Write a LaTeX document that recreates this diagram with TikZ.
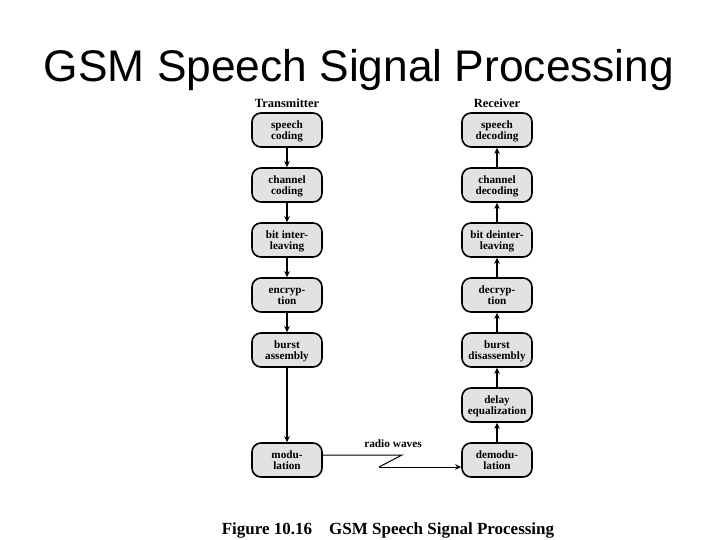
\documentclass[tikz,border=0pt]{standalone}
\usepackage{fontspec}
\setmainfont{Liberation Serif}
\newfontfamily\titlefont{Liberation Sans}
\usetikzlibrary{arrows.meta,positioning}
\definecolor{boxgrey}{HTML}{E2E2E2}
\newcommand{\twolines}[2]{\rule{0pt}{10.5pt}#1\\#2\rule[-2.5pt]{0pt}{2.5pt}}

\begin{document}
\begin{tikzpicture}[x=1pt, y=-1pt,
  node distance=19.4pt and 138.4pt,
  stage/.style={draw=black, fill=boxgrey, line width=1.6pt, rounded corners=9pt, minimum width=70pt, minimum height=34pt, inner sep=1pt, align=center, font=\fontsize{11.2}{11}\selectfont\bfseries},
  head/.style={font=\fontsize{12.5}{14}\selectfont\bfseries},
  arr/.style={-{Stealth[length=6pt, width=5.5pt]}, line width=1.4pt},
  radio/.style={line width=1pt}
]
\useasboundingbox (0,0) rectangle (720,540);

\node[font=\titlefont\fontsize{44.3}{50}\selectfont, anchor=base] (title) at (359,82) {GSM Speech Signal Processing};

% transmitter chain
\node[stage] (spc) at (287,130) {\twolines{speech}{coding}};
\node[stage, below=of spc] (chc) {\twolines{channel}{coding}};
\node[stage, below=of chc] (bil) {\twolines{bit inter-}{leaving}};
\node[stage, below=of bil] (enc) {\twolines{encryp-}{tion}};
\node[stage, below=of enc] (bas) {\twolines{burst}{assembly}};
\node[stage, below=74.4pt of bas] (mod) {\twolines{modu-}{lation}};
\node[head, above=1pt of spc] (tx) {Transmitter};

% receiver chain
\node[stage, right=of spc] (spd) {\twolines{speech}{decoding}};
\node[stage, below=of spd] (chd) {\twolines{channel}{decoding}};
\node[stage, below=of chd] (bdl) {\twolines{bit deinter-}{leaving}};
\node[stage, below=of bdl] (dec) {\twolines{decryp-}{tion}};
\node[stage, below=of dec] (bds) {\twolines{burst}{disassembly}};
\node[stage, below=of bds] (deq) {\twolines{delay}{equalization}};
\node[stage, below=of deq] (dem) {\twolines{demodu-}{lation}};
\node[head, above=1pt of spd] (rx) {Receiver};

\draw[arr] (spc)--(chc); \draw[arr] (chc)--(bil); \draw[arr] (bil)--(enc);
\draw[arr] (enc)--(bas); \draw[arr] (bas)--(mod);
\draw[arr] (dem)--(deq); \draw[arr] (deq)--(bds); \draw[arr] (bds)--(dec);
\draw[arr] (dec)--(bdl); \draw[arr] (bdl)--(chd); \draw[arr] (chd)--(spd);

% radio link
\coordinate (kinkA) at (402,455);
\coordinate (kinkB) at (379,467);
\draw[radio] (mod.east |- kinkA) -- (kinkA) -- (kinkB);
\draw[radio, arr, line width=1pt] (kinkB) -- (kinkB -| dem.west);
\node[font=\fontsize{11.3}{13}\selectfont\bfseries] (rw) at (393,444) {radio waves};

\node[font=\fontsize{17}{19}\selectfont\bfseries, anchor=base] (caption) at (388,534) {Figure 10.16\quad GSM Speech Signal Processing};
\end{tikzpicture}
\end{document}
